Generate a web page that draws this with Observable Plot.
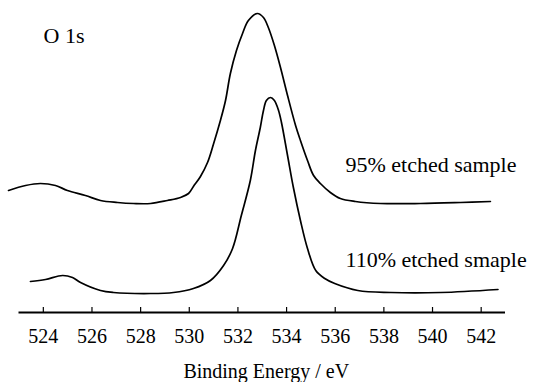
<!DOCTYPE html>
<html>
<head>
<meta charset="utf-8">
<script src="https://cdn.jsdelivr.net/npm/d3@7"></script>
<script src="https://cdn.jsdelivr.net/npm/@observablehq/plot@0.6"></script>
<style>
  html, body { margin: 0; padding: 0; background: #fff; }
  #chart svg { display: block; }
  #chart svg, #chart svg text, #chart svg g { font-family: "Liberation Serif", "Tinos", "DejaVu Serif", serif !important; }
</style>
</head>
<body>
<div id="chart"></div>
<script>
// Binding energy (eV) and intensity (arbitrary units, vertically offset spectra)
const energy95 = [522.57, 523.27, 523.88, 524.50, 524.99, 525.73, 526.35, 527.05, 527.71, 528.41,
  529.10, 529.64, 529.97, 530.17, 530.46, 530.75, 530.99, 531.28, 531.49, 531.69, 531.94, 532.19,
  532.43, 532.80, 533.05, 533.25, 533.50, 533.75, 534.04, 534.37, 534.57, 534.86, 535.11, 535.39,
  535.80, 536.21, 536.83, 537.86, 539.50, 541.15, 542.38];
const intensity95 = [122, 127, 129, 127, 122, 117, 112, 110, 109, 109,
  112, 115, 119, 126, 136, 150, 168, 192, 212, 239, 262, 279,
  292, 299, 295, 285, 267, 245, 217, 187, 172, 152, 137, 129,
  120, 114, 111, 109, 109, 110, 111];

const energy110 = [523.47, 524.09, 524.79, 525.20, 525.53, 526.35, 526.88, 528.40, 529.35, 530.17,
  530.87, 531.41, 531.78, 532.14, 532.51, 532.72, 532.92, 533.05, 533.17, 533.34, 533.50, 533.67,
  533.79, 534.04, 534.28, 534.57, 534.86, 535.20, 535.57, 535.98, 536.93, 538.29, 540.34, 542.69];
const intensity110 = [31, 33, 37, 35, 30, 22, 20, 19, 20, 24,
  32, 47, 64, 97, 132, 162, 185, 202, 212, 215, 212, 202,
  190, 157, 125, 92, 64, 42, 34, 29, 22, 20, 20, 23];

const tickValues = [524, 526, 528, 530, 532, 534, 536, 538, 540, 542];
const seriesLabels = ["95% etched sample", "110% etched smaple"];
const panelLabel = "O 1s";
const xLabel = "Binding Energy / eV";

const s95 = energy95.map((e, i) => ({energy: e, intensity: intensity95[i]}));
const s110 = energy110.map((e, i) => ({energy: e, intensity: intensity110[i]}));

const serif = "Liberation Serif, Tinos, DejaVu Serif, serif";

const chart = Plot.plot({
  width: 533,
  height: 382,
  marginLeft: 18.5,
  marginRight: 28,
  marginTop: 12,
  marginBottom: 70,
  style: {fontFamily: serif, fontSize: "20px", color: "#000", background: "#fff", overflow: "visible"},
  x: {domain: [523, 543]},
  y: {domain: [0, 300], axis: null},
  marks: [
    Plot.axisX({ticks: tickValues, tickSize: 0, tickPadding: 16, tickFormat: d => String(d),
      label: null, fontSize: 20, fill: "#000"}),
    Plot.ruleY([0], {stroke: "#000", strokeWidth: 2}),
    Plot.ruleX(tickValues, {y1: 0, y2: 5, stroke: "#000", strokeWidth: 1.2}),
    Plot.line(s95, {x: "energy", y: "intensity", curve: "catmull-rom", stroke: "#000", strokeWidth: 1.7}),
    Plot.line(s110, {x: "energy", y: "intensity", curve: "catmull-rom", stroke: "#000", strokeWidth: 1.7}),
    Plot.text([panelLabel], {x: 524.01, y: 270, text: d => d, textAnchor: "start", lineAnchor: "bottom",
      fontSize: 22, fill: "#000", fontFamily: serif}),
    Plot.text([seriesLabels[0]], {x: 536.42, y: 141, text: d => d, textAnchor: "start", lineAnchor: "bottom",
      fontSize: 22, fill: "#000", fontFamily: serif}),
    Plot.text([seriesLabels[1]], {x: 536.42, y: 46, text: d => d, textAnchor: "start", lineAnchor: "bottom",
      fontSize: 22, fill: "#000", fontFamily: serif}),
    Plot.text([xLabel], {frameAnchor: "bottom", dy: 65, dx: 4, text: d => d, lineAnchor: "bottom",
      fontSize: 20, fill: "#000", fontFamily: serif})
  ]
});
document.getElementById("chart").appendChild(chart);
</script>
</body>
</html>
